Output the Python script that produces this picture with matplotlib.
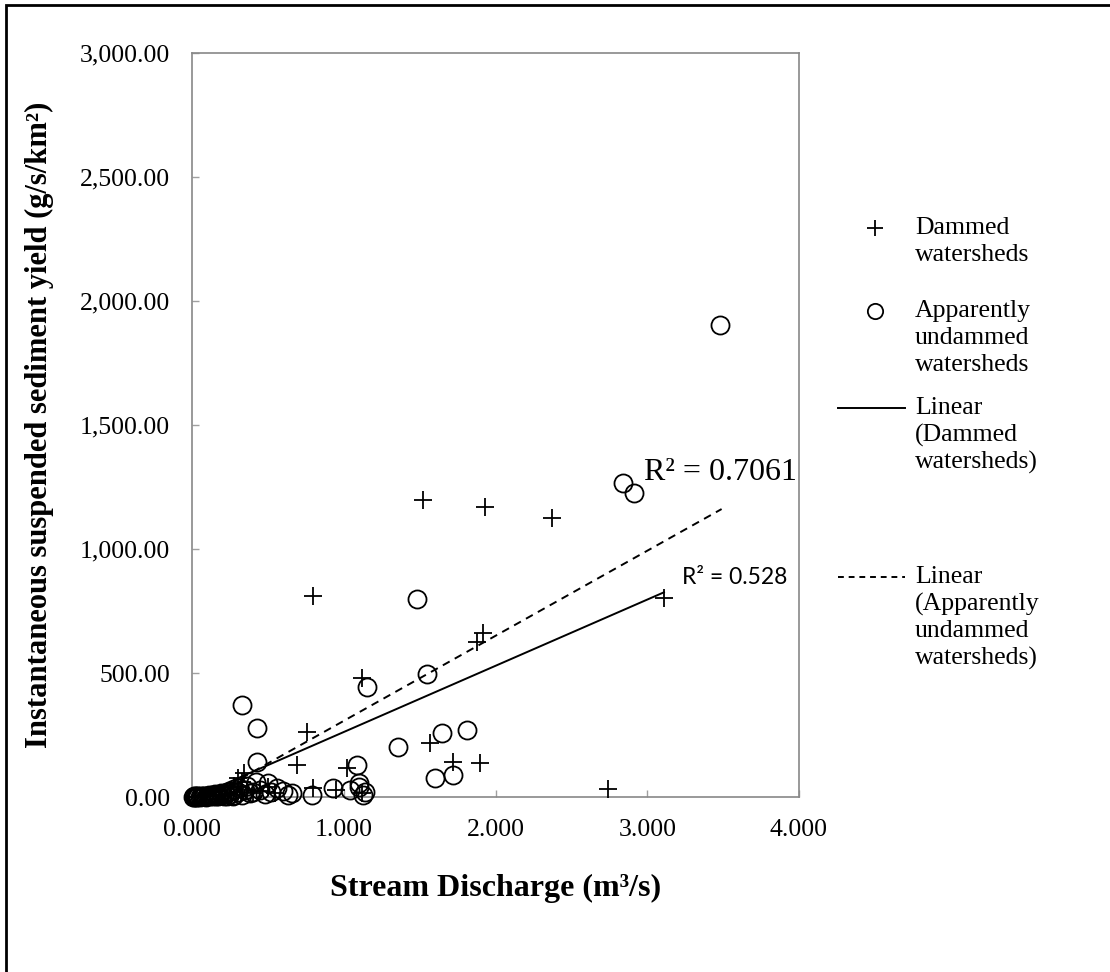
import matplotlib
matplotlib.use("Agg")
import matplotlib.pyplot as plt
from matplotlib.lines import Line2D
from matplotlib.patches import Rectangle
from matplotlib.ticker import FuncFormatter, MultipleLocator

# Dammed watersheds (+)
dammed_x = [0.01, 0.02, 0.03, 0.05, 0.06, 0.08, 0.10, 0.12, 0.14, 0.16, 0.18, 0.20,
            0.22, 0.24, 0.26, 0.28, 0.30, 0.32, 0.33, 0.34, 0.36, 0.40, 0.45, 0.50,
            0.55, 0.69, 0.76, 0.80, 0.80, 0.95, 1.02, 1.12, 1.12, 1.52, 1.57, 1.72,
            1.88, 1.90, 1.92, 1.93, 2.37, 2.74, 3.11]
dammed_y = [1, 2, 1, 3, 2, 4, 3, 6, 4, 8, 5, 10,
            7, 14, 9, 45, 75, 20, 60, 97, 30, 15, 25, 40,
            18, 129, 262, 36, 810, 28, 117, 16, 480, 1197, 218, 141,
            625, 137, 661, 1170, 1125, 32, 802]

# Apparently undammed watersheds (o)
undammed_x = [0.005, 0.01, 0.015, 0.02, 0.025, 0.03, 0.035, 0.04, 0.05, 0.06, 0.07, 0.08,
              0.09, 0.10, 0.11, 0.12, 0.13, 0.14, 0.15, 0.16, 0.17, 0.18, 0.19, 0.20,
              0.21, 0.22, 0.23, 0.24, 0.25, 0.26, 0.27, 0.28, 0.30, 0.31, 0.33, 0.33,
              0.35, 0.36, 0.38, 0.40, 0.42, 0.43, 0.43, 0.45, 0.48, 0.50, 0.52, 0.56,
              0.60, 0.63, 0.66, 0.79, 0.93, 1.04, 1.09, 1.10, 1.10, 1.13, 1.14, 1.15,
              1.36, 1.48, 1.55, 1.60, 1.65, 1.72, 1.81, 2.84, 2.91, 3.48]
undammed_y = [1, 2, 4, 3, 1, 1, 6, 4, 2, 5, 3, 6,
              2, 4, 8, 3, 10, 5, 12, 6, 4, 9, 15, 7,
              3, 18, 5, 20, 12, 25, 6, 8, 20, 35, 10, 371,
              28, 45, 15, 22, 60, 141, 278, 30, 12, 56, 20, 36,
              25, 10, 16, 8, 36, 28, 129, 56, 40, 8, 20, 443,
              202, 797, 496, 77, 258, 89, 270, 1265, 1225, 1905]

# Linear trendlines as drawn in the chart (slope, intercept, x span)
dammed_fit = (267.0, -5.0)
dammed_fit_x = [0.01, 3.11]
undammed_fit = (343.0, -36.0)
undammed_fit_x = [0.01, 3.49]
dammed_r2 = "R\u00b2 = 0.528"
undammed_r2 = "R\u00b2 = 0.7061"

serif = "Liberation Serif"
plt.rcParams["font.family"] = serif

fig = plt.figure(figsize=(11.1, 9.72), dpi=100)
ax = fig.add_axes([192 / 1110, 1 - 797 / 972, 607 / 1110, 744 / 972])

ax.plot(dammed_x, dammed_y, linestyle="none", marker="+", markersize=13,
        markeredgewidth=1.3, color="black", clip_on=False, zorder=3)
ax.plot(undammed_x, undammed_y, linestyle="none", marker="o", markersize=13,
        markerfacecolor="none", markeredgewidth=1.3, color="black", clip_on=False, zorder=3)

fx = dammed_fit_x
ax.plot(fx, [dammed_fit[0] * v + dammed_fit[1] for v in fx], color="black", lw=1.4)
fx = undammed_fit_x
ax.plot(fx, [undammed_fit[0] * v + undammed_fit[1] for v in fx], color="black", lw=1.4,
        linestyle=(0, (4, 3)))

ax.text(2.98, 1310, undammed_r2, fontsize=23, va="center", ha="left")
ax.text(3.23, 887, dammed_r2, fontsize=16.5, va="center", ha="left", family="Lato")

ax.set_xlim(0, 4)
ax.set_ylim(0, 3000)
ax.xaxis.set_major_locator(MultipleLocator(1))
ax.yaxis.set_major_locator(MultipleLocator(500))
ax.xaxis.set_major_formatter(FuncFormatter(lambda v, p: f"{v:.3f}"))
ax.yaxis.set_major_formatter(FuncFormatter(lambda v, p: f"{v:,.2f}"))
ax.tick_params(direction="in", length=5, width=1, color="#a0a0a0", labelsize=18.5)
ax.tick_params(axis="y", pad=16)
ax.tick_params(axis="x", pad=16)
for s in ax.spines.values():
    s.set_color("#888888")
    s.set_linewidth(1.2)

ax.set_xlabel("Stream Discharge (m\u00b3/s)", fontsize=23, fontweight="bold")
ax.set_ylabel("Instantaneous suspended sediment yield (g/s/km\u00b2)", fontsize=22,
              fontweight="bold")
ax.xaxis.set_label_coords(0.5, -0.103)
ax.yaxis.set_label_coords(-0.228, 0.5)

# legend drawn by hand, entries wrap like the original
W, H = 1110, 972
def fpos(x, y):
    return x / W, 1 - y / H

legend_items = [
    ("marker", "+", ["Dammed", "watersheds"], 228),
    ("marker", "o", ["Apparently", "undammed", "watersheds"], 311),
    ("line", "-", ["Linear", "(Dammed", "watersheds)"], 408),
    ("line", "--", ["Linear", "(Apparently", "undammed", "watersheds)"], 577),
]
for kind, style, lines, y0 in legend_items:
    if kind == "marker":
        mx, my = fpos(875, y0)
        fig.add_artist(Line2D([mx], [my], marker=style, markersize=11, markeredgewidth=1.3,
                              markerfacecolor="none", color="black", linestyle="none"))
    else:
        x1, yy = fpos(838, y0)
        x2, _ = fpos(905, y0)
        ls = "-" if style == "-" else (0, (3, 2.5))
        fig.add_artist(Line2D([x1, x2], [yy, yy], color="black", lw=1.4, linestyle=ls))
    for i, t in enumerate(lines):
        tx, ty = fpos(915, y0 + 27 * i)
        fig.text(tx, ty, t, fontsize=18.5, va="center", ha="left")

# outer chart frame (only top and left edges visible)
fig.add_artist(Rectangle((6 / W, -1), 2, 1 - 5 / H + 1, fill=False, lw=2, edgecolor="black",
                         transform=fig.transFigure, clip_on=False))

fig.savefig("out.png", dpi=100)
